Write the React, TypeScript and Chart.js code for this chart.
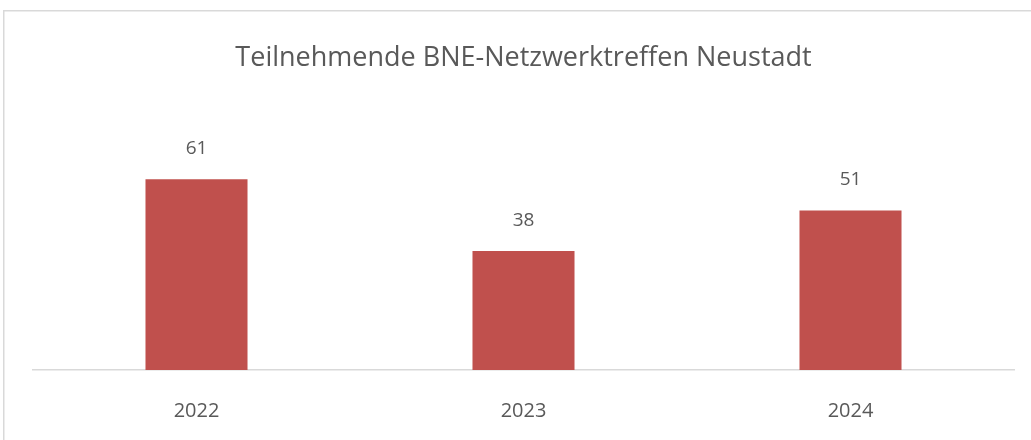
import React, { useEffect, useRef } from "react";
import { Chart, registerables } from "chart.js";

Chart.register(...registerables);

const categories: string[] = ["2022", "2023", "2024"];
const participants: number[] = [61, 38, 51];
const chartTitle = "Teilnehmende BNE-Netzwerktreffen Neustadt";

const FONT = "'Open Sans', 'Noto Sans', sans-serif";
const TEXT_COLOR = "#595959";

const frameAndLabels = {
  id: "frameAndLabels",
  beforeDraw(chart: any) {
    const ctx = chart.ctx;
    ctx.save();
    ctx.strokeStyle = "#d9d9d9";
    ctx.lineWidth = 1.5;
    ctx.strokeRect(3.75, 10.75, chart.width + 20, chart.height + 20);
    ctx.restore();
  },
  afterDatasetsDraw(chart: any) {
    const ctx = chart.ctx;
    const meta = chart.getDatasetMeta(0);
    const data = chart.data.datasets[0].data as number[];
    ctx.save();
    ctx.font = `19px ${FONT}`;
    ctx.fillStyle = TEXT_COLOR;
    ctx.textAlign = "center";
    ctx.textBaseline = "middle";
    meta.data.forEach((bar: any, i: number) => {
      ctx.fillText(String(data[i]), bar.x, bar.y - 31);
    });
    ctx.restore();
  },
};

export default function App() {
  const ref = useRef<HTMLCanvasElement | null>(null);
  useEffect(() => {
    if (!ref.current) return;
    const chart = new Chart(ref.current, {
      type: "bar",
      data: {
        labels: categories,
        datasets: [
          {
            label: "Teilnehmende",
            data: participants,
            backgroundColor: "#C0504D",
            borderWidth: 0,
            barPercentage: 0.312,
            categoryPercentage: 1,
          },
        ],
      },
      options: {
        animation: false,
        responsive: false,
        maintainAspectRatio: false,
        layout: { padding: { left: 33, right: 17, top: 0, bottom: 0 } },
        plugins: {
          legend: { display: false },
          tooltip: { enabled: false },
          title: {
            display: true,
            text: chartTitle,
            color: TEXT_COLOR,
            font: { family: FONT, size: 27, weight: "normal", lineHeight: 1.2 },
            padding: { top: 41.8, bottom: 76.8 },
          },
        },
        scales: {
          x: {
            grid: { display: false, drawTicks: false },
            border: { display: true, color: "#d9d9d9", width: 1.5 },
            ticks: {
              color: TEXT_COLOR,
              font: { family: FONT, size: 20 },
              padding: 29,
            },
            afterFit: (scale: any) => {
              scale.height = 70;
            },
          },
          y: {
            display: false,
            min: 0,
            max: 70,
          },
        },
      },
      plugins: [frameAndLabels],
    });
    return () => chart.destroy();
  }, []);
  return (
    <div style={{ position: "absolute", left: 0, top: 0, width: 1031, height: 440, background: "#fff" }}>
      <canvas ref={ref} width={1031} height={440} style={{ display: "block", width: 1031, height: 440 }} />
    </div>
  );
}
